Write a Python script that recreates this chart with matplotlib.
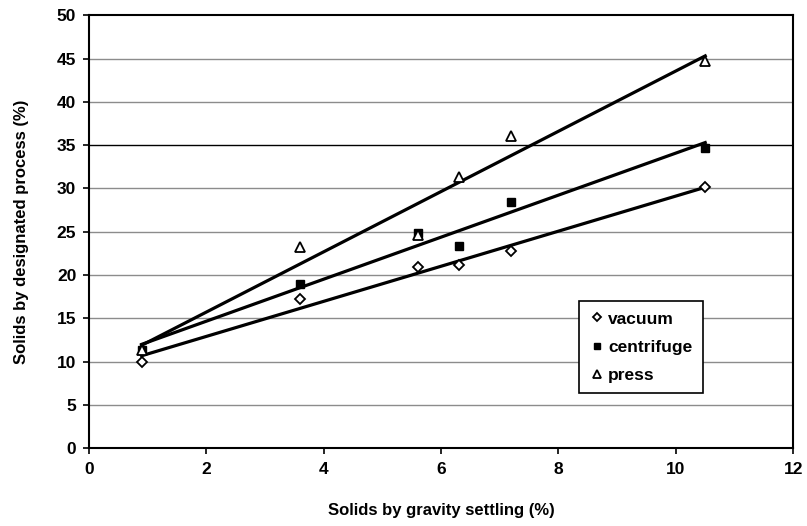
import numpy as np
import matplotlib.pyplot as plt

plt.rcParams['font.family'] = ['Liberation Sans', 'DejaVu Sans']
plt.rcParams['font.weight'] = 'bold'

# data
gravity = [0.9, 3.6, 5.6, 6.3, 7.2, 10.5]
vacuum = [10.0, 17.2, 20.9, 21.1, 22.8, 30.2]
centrifuge = [11.3, 19.0, 24.8, 23.4, 28.4, 34.7]
press = [11.3, 23.2, 24.6, 31.3, 36.1, 44.7]

fig = plt.figure(figsize=(8.07, 5.26), dpi=100)
ax = fig.add_axes([0.110, 0.148, 0.873, 0.823])

# horizontal gridlines (35 drawn darker as in the original)
for yv in range(5, 50, 5):
    ax.axhline(yv, color='black' if yv == 35 else '#8c8c8c', lw=1.0, zorder=1)

x = np.array(gravity)
xs = np.array([x.min(), x.max()])
for vals in (vacuum, centrifuge, press):
    k, b = np.polyfit(x, vals, 1)
    ax.plot(xs, k * xs + b, color='black', lw=2.3, zorder=2)

ax.plot(gravity, vacuum, linestyle='none', marker='D', ms=5.5, mfc='white',
        mec='black', mew=1.3, label='vacuum', zorder=3)
ax.plot(gravity, centrifuge, linestyle='none', marker='s', ms=6, mfc='black',
        mec='black', label='centrifuge', zorder=3)
ax.plot(gravity, press, linestyle='none', marker='^', ms=7, mfc='white',
        mec='black', mew=1.3, label='press', zorder=3)

ax.set_xlim(0, 12)
ax.set_ylim(0, 50)
ax.set_xticks(range(0, 13, 2))
ax.set_yticks(range(0, 51, 5))
for s in ax.spines.values():
    s.set_linewidth(1.5)
ax.tick_params(direction='out', length=4, width=1.2, labelsize=12.5, pad=5)
ax.tick_params(axis='x', pad=6)
for lab in ax.get_xticklabels() + ax.get_yticklabels():
    lab.set_fontweight('bold')

ax.set_xlabel('Solids by gravity settling (%)', fontsize=12, fontweight='bold', labelpad=19)
ax.set_ylabel('Solids by designated process (%)', fontsize=12, fontweight='bold', labelpad=20)

leg = ax.legend(loc='upper left', bbox_to_anchor=(0.683, 0.36), fontsize=12.5,
                frameon=True, fancybox=False, edgecolor='black', framealpha=1,
                handletextpad=0.2, handlelength=0.9, borderpad=0.6,
                labelspacing=0.75, markerscale=0.75)
leg.get_frame().set_linewidth(1.2)
for t in leg.get_texts():
    t.set_fontweight('bold')

plt.savefig('out.png', dpi=100)
